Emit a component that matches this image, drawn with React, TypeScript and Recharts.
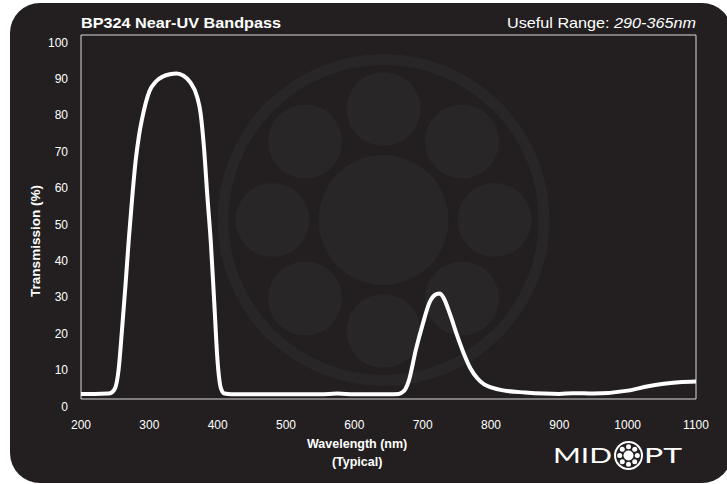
import React from "react";
import { LineChart, Line, XAxis, YAxis, ReferenceArea, Label } from "recharts";

// BP324 transmission curve
const wavelength = [
  200, 220, 240, 245, 250, 255, 260, 265, 270, 275, 280, 285, 290, 300, 310, 320, 330, 340, 350, 360,
  370, 375, 380, 385, 390, 395, 400, 405, 410, 420, 450, 500, 550, 575, 600, 650, 665, 670, 675, 680,
  690, 700, 710, 720, 725, 730, 740, 750, 760, 770, 780, 790, 800, 820, 850, 900, 920, 950, 1000, 1030,
  1050, 1075, 1100,
];
const transmission = [
  3.4, 3.4, 3.5, 3.8, 5.0, 10, 21, 33, 46, 57.5, 67.5, 74.5, 79.5, 86.5, 89.3, 90.6, 91.2, 91.4, 90.8, 89,
  85, 80.5, 71, 57.5, 45, 28.5, 12, 4.8, 3.5, 3.3, 3.3, 3.3, 3.3, 3.5, 3.3, 3.3, 3.4, 3.8, 4.8, 7.2,
  15.5, 22.5, 28.5, 30.8, 31, 30, 25.3, 19.7, 14.6, 10.4, 7.7, 6.0, 5.2, 4.3, 3.8, 3.4, 3.6, 3.5, 4.3, 5.5,
  6.1, 6.6, 6.8,
];
const xTicks = [200, 300, 400, 500, 600, 700, 800, 900, 1000, 1100];
const yTicks = [0, 10, 20, 30, 40, 50, 60, 70, 80, 90, 100];

const data = wavelength.map((w, i) => ({ wavelength: w, transmission: transmission[i] }));

const FONT = "'Liberation Sans', Arial, sans-serif";
const BG = "#231f20";
const MARK = "#292627";

const satellites = [0, 45, 90, 135, 180, 225, 270, 315];

const Watermark = () => {
  const cx = 383.5;
  const cy = 220;
  return (
    <g>
      <circle cx={cx} cy={cy} r={160.5} fill="none" stroke={MARK} strokeWidth={11} />
      <circle cx={cx} cy={cy} r={65} fill={MARK} />
      {satellites.map((a) => (
        <circle
          key={a}
          cx={cx + 111 * Math.sin((a * Math.PI) / 180)}
          cy={cy - 111 * Math.cos((a * Math.PI) / 180)}
          r={37}
          fill={MARK}
        />
      ))}
    </g>
  );
};

const Logo = () => {
  const cx = 628.5;
  const cy = 455.5;
  return (
    <g fill="#fff" fontFamily="Lato, 'DejaVu Sans', sans-serif" fontWeight={400} fontSize={21}>
      <text x={553} y={463} textLength={59} lengthAdjust="spacingAndGlyphs">MID</text>
      <circle cx={cx} cy={cy} r={13.5} fill="none" stroke="#fff" strokeWidth={2} />
      <circle cx={cx} cy={cy} r={5} />
      {satellites.map((a) => (
        <circle
          key={a}
          cx={cx + 8.8 * Math.sin((a * Math.PI) / 180)}
          cy={cy - 8.8 * Math.cos((a * Math.PI) / 180)}
          r={2.5}
        />
      ))}
      <text x={644} y={463} textLength={38} lengthAdjust="spacingAndGlyphs">PT</text>
    </g>
  );
};

const XLabel = ({ viewBox }: any) => {
  const x = viewBox.x + viewBox.width * 0.449;
  return (
    <text textAnchor="middle" fill="#fff" fontFamily={FONT} fontWeight="bold" fontSize={12.5}>
      <tspan x={x} y={448}>Wavelength (nm)</tspan>
      <tspan x={x} y={466}>(Typical)</tspan>
    </text>
  );
};

const YLabel = ({ viewBox }: any) => {
  const x = viewBox.x + 19;
  const y = 241;
  return (
    <text
      x={x}
      y={y}
      transform={`rotate(-90 ${x} ${y})`}
      textAnchor="middle"
      fill="#fff"
      fontFamily={FONT}
      fontWeight="bold"
      fontSize={13.5}
    >
      Transmission (%)
    </text>
  );
};

export default function App() {
  return (
    <div style={{ position: "fixed", left: 0, top: 0, width: 727, height: 484, background: "#fff" }}>
      <svg width={727} height={484} style={{ position: "absolute", left: 0, top: 0 }}>
        <rect x={10} y={3} width={722} height={480} rx={30} fill={BG} />
        <Watermark />
        <text x={81} y={28} fill="#fff" fontFamily={FONT} fontWeight="bold" fontSize={15} textLength={200} lengthAdjust="spacingAndGlyphs">
          BP324 Near-UV Bandpass
        </text>
        <text x={507} y={28} fill="#fff" fontFamily={FONT} fontSize={15} textLength={189} lengthAdjust="spacingAndGlyphs">
          Useful Range: <tspan fontStyle="italic">290-365nm</tspan>
        </text>
        <Logo />
      </svg>
      <div style={{ position: "absolute", left: 0, top: 0 }}>
        <LineChart width={727} height={484} data={data} margin={{ top: 35, right: 31, bottom: 25, left: 21 }}>
          <XAxis
            type="number"
            dataKey="wavelength"
            domain={[200, 1100]}
            ticks={xTicks}
            allowDataOverflow
            axisLine={false}
            tickLine={false}
            tickMargin={15}
            height={60}
            tick={{ fill: "#fff", fontSize: 12, fontFamily: FONT }}
          >
            <Label content={XLabel} />
          </XAxis>
          <YAxis
            type="number"
            domain={[2, 102]}
            ticks={yTicks}
            allowDataOverflow
            axisLine={false}
            tickLine={false}
            tickMargin={7}
            width={60}
            tick={{ fill: "#fff", fontSize: 12, fontFamily: FONT }}
          >
            <Label content={YLabel} />
          </YAxis>
          <ReferenceArea x1={200} x2={1100} y1={2} y2={102} fill="none" stroke="#d9d9d9" strokeWidth={1} ifOverflow="visible" />
          <Line
            type="monotone"
            dataKey="transmission"
            stroke="#fff"
            strokeWidth={4}
            dot={false}
            activeDot={false}
            isAnimationActive={false}
          />
        </LineChart>
      </div>
    </div>
  );
}
